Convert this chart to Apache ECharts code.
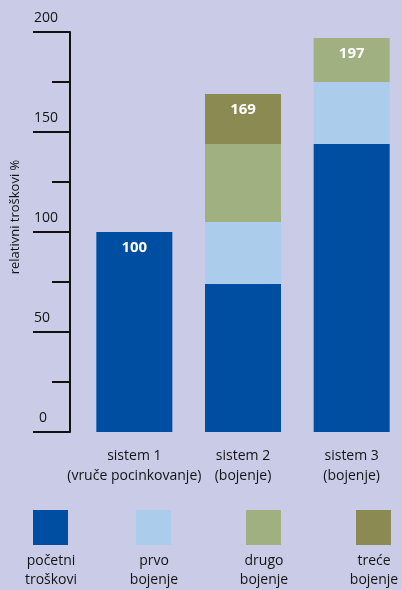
<!DOCTYPE html>
<html>
<head>
<meta charset="utf-8">
<script src="https://cdn.jsdelivr.net/npm/echarts@6/dist/echarts.min.js"></script>
<style>
  html, body { margin: 0; padding: 0; background: #c9cbe7; }
  #chart { width: 402px; height: 590px; }
</style>
</head>
<body>
<div id="chart"></div>
<script>
// Cost categories along the x axis
const categories = ['sistem 1\n(vruče pocinkovanje)', 'sistem 2\n(bojenje)', 'sistem 3\n(bojenje)'];

// Stacked cost components (relative costs, %)
const seriesNames = ['početni\ntroškovi', 'prvo\nbojenje', 'drugo\nbojenje', 'treće\nbojenje'];
const initialCost = [100, 74, 144];
const firstPaint  = [null, 31, 31];
const secondPaint = [null, 39, 22];
const thirdPaint  = [null, 25, null];

// Total shown on top of each column
const totals = [100, 169, 197];

// Y axis ticks
const yTicks = [0, 50, 100, 150, 200];

const colors = ['#004ea2', '#abcdeb', '#a0b080', '#8b8a52'];
const textColor = '#141414';
const font = 'Open Sans';

const valueSets = [initialCost, firstPaint, secondPaint, thirdPaint];

// Index of the topmost filled segment in each column, which carries the total label
const topSeries = categories.map((_, ci) => {
  let top = 0;
  valueSets.forEach((vals, si) => { if (vals[ci] != null) top = si; });
  return top;
});

const series = valueSets.map((vals, si) => ({
  name: seriesNames[si],
  type: 'bar',
  stack: 'cost',
  barWidth: 76,
  itemStyle: { color: colors[si] },
  data: vals.map((v, ci) => ({
    value: v,
    label: {
      show: topSeries[ci] === si,
      position: 'insideTop',
      distance: 8,
      color: '#ffffff',
      fontFamily: font,
      fontWeight: 'bold',
      fontSize: 15,
      formatter: () => String(totals[ci])
    }
  }))
}));

// Legend: colour swatch with its caption underneath
const legendX = [33, 136, 246, 356];
const legendGraphics = [];
seriesNames.forEach((name, i) => {
  legendGraphics.push({
    type: 'rect',
    shape: { x: legendX[i], y: 510, width: 35, height: 35 },
    style: { fill: colors[i] }
  });
  legendGraphics.push({
    type: 'text',
    x: legendX[i] + 18,
    y: 552,
    style: {
      text: name,
      fill: textColor,
      font: '14px "' + font + '"',
      lineHeight: 19,
      align: 'center',
      verticalAlign: 'top'
    }
  });
});

const chart = echarts.init(document.getElementById('chart'), null, { renderer: 'canvas' });
chart.setOption({
  backgroundColor: '#c9cbe7',
  animation: false,
  grid: {
    left: 80, top: 32, width: 326, height: 400,
    containLabel: false,
    outerBoundsMode: 'none'
  },
  xAxis: {
    type: 'category',
    data: categories,
    axisLine: { show: false },
    axisTick: { show: false },
    axisLabel: {
      interval: 0,
      margin: 14,
      color: textColor,
      fontFamily: font,
      fontSize: 14,
      lineHeight: 20
    }
  },
  yAxis: {
    type: 'value',
    min: yTicks[0],
    max: yTicks[yTicks.length - 1],
    interval: yTicks[1] - yTicks[0],
    offset: 10,
    name: 'relativni troškovi %',
    nameLocation: 'middle',
    nameGap: 48,
    nameTextStyle: {
      color: textColor,
      fontFamily: font,
      fontSize: 13,
      padding: [0, 0, 0, 30]
    },
    axisLine: { show: true, lineStyle: { color: '#111', width: 2 } },
    axisTick: { show: true, length: 37, lineStyle: { color: '#111', width: 2 } },
    minorTick: { show: true, splitNumber: 2, length: 18, lineStyle: { color: '#111', width: 2 } },
    splitLine: { show: false },
    minorSplitLine: { show: false },
    axisLabel: {
      align: 'left',
      verticalAlign: 'bottom',
      margin: 36,
      color: textColor,
      fontFamily: font,
      fontSize: 14,
      lineHeight: 18,
      padding: [0, 0, 5, 0],
      formatter: v => v === 0 ? '{z|0}' : String(v),
      rich: { z: { fontFamily: font, fontSize: 14, color: textColor, padding: [0, 0, 0, 5] } }
    }
  },
  series: series,
  graphic: legendGraphics
});
</script>
</body>
</html>
